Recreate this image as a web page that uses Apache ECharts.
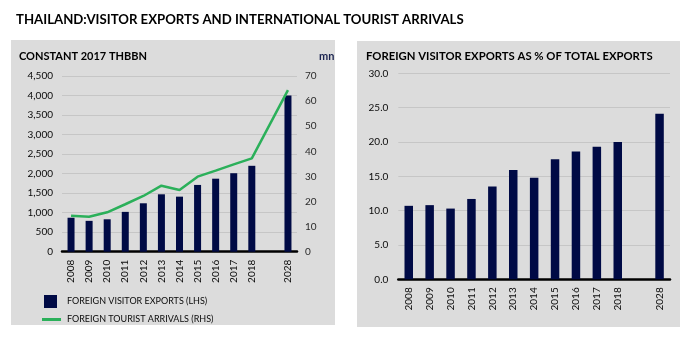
<!DOCTYPE html>
<html>
<head>
<meta charset="utf-8">
<script src="https://cdn.jsdelivr.net/npm/echarts@6/dist/echarts.min.js"></script>
<style>
  html, body { margin: 0; padding: 0; background: #ffffff; }
  #chart { width: 698px; height: 341px; }
</style>
</head>
<body>
<div id="chart"></div>
<script>
// Categories: 2008-2018, a blank gap slot, then the 2028 forecast
const years = ['2008', '2009', '2010', '2011', '2012', '2013', '2014', '2015', '2016', '2017', '2018', '', '2028'];

// Foreign visitor exports, constant 2017 THB bn (left axis)
const visitorExports = [870, 790, 830, 1020, 1240, 1470, 1410, 1710, 1870, 2010, 2200, null, 4000];

// Foreign tourist arrivals, mn (right axis)
const touristArrivals = [14.3, 13.9, 15.7, 18.9, 22.2, 26.3, 24.6, 29.9, 32.3, 34.8, 37.2, null, 64.4];

// Foreign visitor exports as % of total exports
const exportShare = [10.7, 10.8, 10.3, 11.7, 13.5, 15.9, 14.8, 17.5, 18.6, 19.3, 20.0, null, 24.1];

const FONT = 'Lato, "Open Sans", sans-serif';
const NAVY = '#000a45';
const GREEN = '#2bb05a';
const PANEL = '#dcdcdc';
const GRID_LINE = '#c6c6c6';
const TEXT = '#0a0a0a';

const chart = echarts.init(document.getElementById('chart'), null, { renderer: 'canvas', width: 698, height: 341 });

const xLabel = { rotate: 90, interval: 0, fontSize: 10, color: TEXT, fontFamily: FONT, margin: 8 };
const baseLine = { show: true, onZero: true, lineStyle: { color: '#000000', width: 2.5 } };

chart.setOption({
  backgroundColor: '#ffffff',
  animation: false,
  textStyle: { fontFamily: FONT },
  graphic: [
    { type: 'rect', z: -10, shape: { x: 11, y: 40, width: 324, height: 285 }, style: { fill: PANEL } },
    { type: 'rect', z: -10, shape: { x: 357, y: 41, width: 323, height: 286 }, style: { fill: PANEL } }
  ],
  title: [
    { text: 'THAILAND:VISITOR EXPORTS AND INTERNATIONAL TOURIST ARRIVALS', left: 11, top: 8,
      textStyle: { fontSize: 13.2, fontWeight: 'bold', color: '#000000', fontFamily: FONT } },
    { text: 'CONSTANT 2017 THBBN', left: 14, top: 46,
      textStyle: { fontSize: 11, fontWeight: 'bold', color: '#000000', fontFamily: FONT } },
    { text: 'mn', left: 314, top: 46,
      textStyle: { fontSize: 11, fontWeight: 'bold', color: '#1b2450', fontFamily: FONT } },
    { text: 'FOREIGN VISITOR EXPORTS AS % OF TOTAL EXPORTS', left: 361, top: 46,
      textStyle: { fontSize: 11.3, fontWeight: 'bold', color: '#000000', fontFamily: FONT } }
  ],
  legend: [
    { data: ['FOREIGN VISITOR EXPORTS (LHS)'], left: 39, top: 290, orient: 'vertical',
      icon: 'rect', itemWidth: 13, itemHeight: 13, itemGap: 0,
      textStyle: { fontSize: 9, color: TEXT, fontFamily: FONT, padding: [0, 0, 0, 5] } },
    { data: ['FOREIGN TOURIST ARRIVALS (RHS)'], left: 37, top: 310, orient: 'vertical',
      icon: 'rect', itemWidth: 19, itemHeight: 3, itemGap: 0,
      textStyle: { fontSize: 9, color: TEXT, fontFamily: FONT, padding: [0, 0, 0, 1] } }
  ],
  grid: [
    { left: 62, top: 76, width: 235, height: 175.7 },
    { left: 398.3, top: 73.3, width: 271.7, height: 206 }
  ],
  xAxis: [
    { type: 'category', gridIndex: 0, data: years, axisLine: baseLine, axisTick: { show: false }, axisLabel: xLabel },
    { type: 'category', gridIndex: 1, data: years, axisLine: baseLine, axisTick: { show: false }, axisLabel: xLabel }
  ],
  yAxis: [
    { type: 'value', gridIndex: 0, min: 0, max: 4500, interval: 500,
      axisLine: { show: false }, axisTick: { show: false },
      splitLine: { lineStyle: { color: GRID_LINE, width: 1 } },
      axisLabel: { fontSize: 10, color: TEXT, fontFamily: FONT, margin: 9,
        formatter: v => v.toLocaleString('en-US') } },
    { type: 'value', gridIndex: 0, position: 'right', min: 0, max: 70, interval: 10,
      axisLine: { show: false }, axisTick: { show: false }, splitLine: { show: false },
      axisLabel: { fontSize: 10, color: '#2a2a2a', fontFamily: FONT, margin: 8 } },
    { type: 'value', gridIndex: 1, min: 0, max: 30, interval: 5,
      axisLine: { show: false }, axisTick: { show: false },
      splitLine: { lineStyle: { color: GRID_LINE, width: 1 } },
      axisLabel: { fontSize: 10, color: TEXT, fontFamily: FONT, margin: 10,
        formatter: v => v.toFixed(1) } }
  ],
  series: [
    { name: 'FOREIGN VISITOR EXPORTS (LHS)', type: 'bar', xAxisIndex: 0, yAxisIndex: 0,
      data: visitorExports, barWidth: 7, itemStyle: { color: NAVY } },
    { name: 'FOREIGN TOURIST ARRIVALS (RHS)', type: 'line', xAxisIndex: 0, yAxisIndex: 1,
      data: touristArrivals, connectNulls: true, showSymbol: false, symbol: 'none', z: 5,
      lineStyle: { color: GREEN, width: 2.5 }, itemStyle: { color: GREEN } },
    { name: 'Export share', type: 'bar', xAxisIndex: 1, yAxisIndex: 2,
      data: exportShare, barWidth: 8.5, itemStyle: { color: NAVY } }
  ]
});
</script>
</body>
</html>
